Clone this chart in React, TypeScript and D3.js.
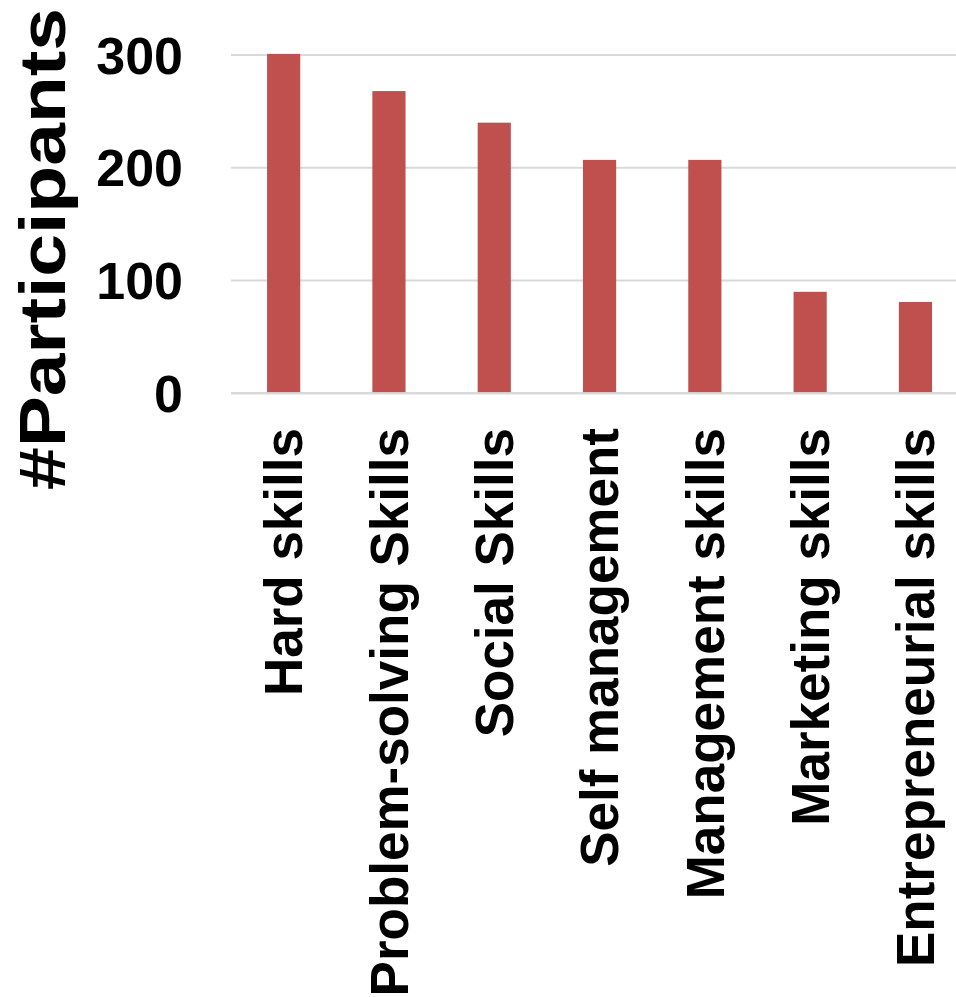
import React from "react";
import * as d3 from "d3";

const categories = [
  "Hard skills",
  "Problem-solving Skills",
  "Social Skills",
  "Self management",
  "Management skills",
  "Marketing skills",
  "Entrepreneurial skills",
];
const participants = [301, 268, 240, 207, 207, 90, 81];
const yTicks = [0, 100, 200, 300];
const yTitle = "#Participants";

const W = 956;
const H = 997;
const FONT = "Liberation Sans, Arial, Helvetica, sans-serif";

export default function App() {
  const step = 105.3;
  const x0 = 231;
  const x = d3
    .scaleBand<string>()
    .domain(categories)
    .range([x0, x0 + step * categories.length])
    .paddingInner(0.685)
    .paddingOuter(0.3425);
  const y = d3.scaleLinear().domain([0, 300]).range([393.3, 55]);
  const gridRight = W;

  return (
    <svg
      width={W}
      height={H}
      style={{ position: "absolute", left: 0, top: 0, background: "#fff" }}
      fontFamily={FONT}
    >
      <rect x={0} y={0} width={W} height={H} fill="#fff" />
      {yTicks.map((t) => (
        <line
          key={"g" + t}
          x1={x0}
          x2={gridRight}
          y1={y(t)}
          y2={y(t)}
          stroke="#D9D9D9"
          strokeWidth={t === 0 ? 2.5 : 2}
        />
      ))}
      {categories.map((c, i) => (
        <rect
          key={c}
          x={x(c)!}
          width={x.bandwidth()}
          y={y(participants[i])}
          height={y(0) - y(participants[i]) - 1.2}
          fill="#C0504D"
        />
      ))}
      {yTicks.map((t) => (
        <text
          key={"t" + t}
          x={183}
          y={y(t)}
          dy="0.36em"
          textAnchor="end"
          fontSize={52}
          fontWeight="bold"
          fill="#000"
        >
          {t}
        </text>
      ))}
      {categories.map((c) => {
        const cx = x(c)! + x.bandwidth() / 2 + 18.8;
        return (
          <text
            key={"l" + c}
            transform={`translate(${cx},428) rotate(-90)`}
            textAnchor="end"
            fontSize={53}
            fontWeight="bold"
            fill="#000"
          >
            {c}
          </text>
        );
      })}
      <text
        transform={`translate(65,249) rotate(-90)`}
        textAnchor="middle"
        fontSize={64}
        fontWeight="bold"
        fill="#000"
        textLength={482}
        lengthAdjust="spacingAndGlyphs"
      >
        {yTitle}
      </text>
    </svg>
  );
}
